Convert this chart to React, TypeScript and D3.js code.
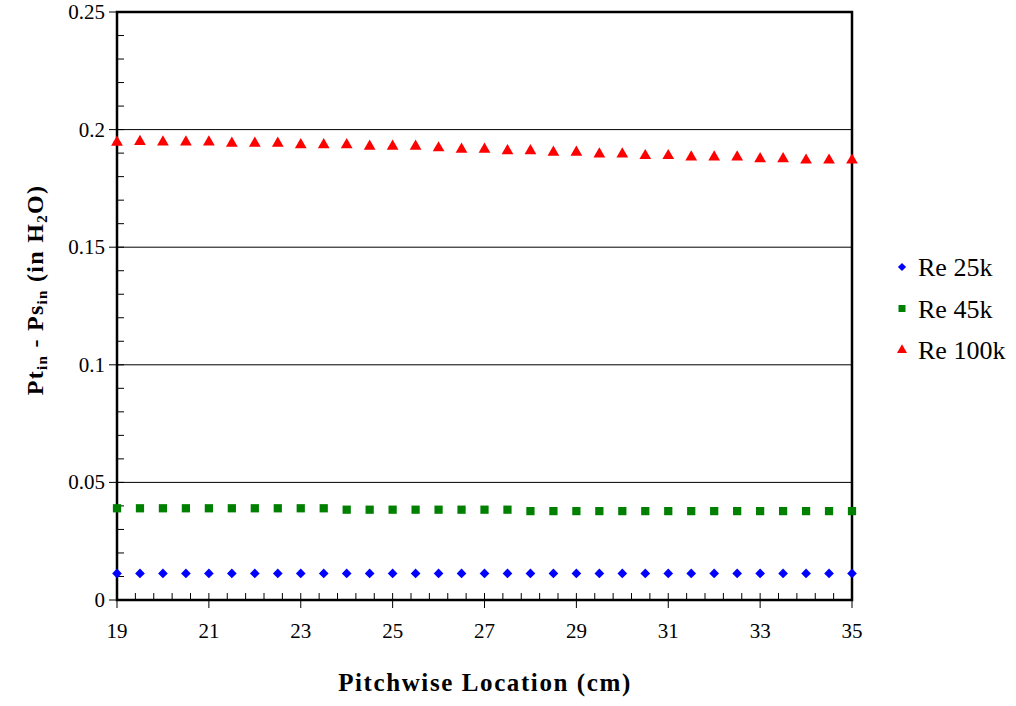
import React from "react";
import * as d3 from "d3";

const locations: number[] = [
  19, 19.5, 20, 20.5, 21, 21.5, 22, 22.5, 23, 23.5, 24, 24.5, 25, 25.5, 26, 26.5,
  27, 27.5, 28, 28.5, 29, 29.5, 30, 30.5, 31, 31.5, 32, 32.5, 33, 33.5, 34, 34.5, 35,
];

const re25k: number[] = [
  0.0113, 0.0113, 0.0113, 0.0113, 0.0113, 0.0113, 0.0113, 0.0113, 0.0113, 0.0113, 0.0113,
  0.0113, 0.0113, 0.0113, 0.0113, 0.0113, 0.0113, 0.0113, 0.0113, 0.0113, 0.0113, 0.0113,
  0.0113, 0.0113, 0.0113, 0.0113, 0.0113, 0.0113, 0.0113, 0.0113, 0.0113, 0.0113, 0.0113,
];

const re45k: number[] = [
  0.039, 0.039, 0.039, 0.039, 0.039, 0.039, 0.039, 0.039, 0.039, 0.039, 0.0384,
  0.0384, 0.0384, 0.0384, 0.0384, 0.0384, 0.0384, 0.0384, 0.0378, 0.0378, 0.0378, 0.0378,
  0.0378, 0.0378, 0.0378, 0.0378, 0.0378, 0.0378, 0.0378, 0.0378, 0.0378, 0.0378, 0.0378,
];

const re100k: number[] = [
  0.1946, 0.1949, 0.1947, 0.1947, 0.1947, 0.1942, 0.1942, 0.1942, 0.1935, 0.1935, 0.1935,
  0.1929, 0.1929, 0.1929, 0.1922, 0.1916, 0.1916, 0.191, 0.191, 0.1903, 0.1903, 0.1896,
  0.1896, 0.1889, 0.1889, 0.1883, 0.1883, 0.1883, 0.1876, 0.1876, 0.187, 0.187, 0.187,
];

const seriesNames: string[] = ["Re 25k", "Re 45k", "Re 100k"];
const xTickValues: number[] = [19, 21, 23, 25, 27, 29, 31, 33, 35];
const yTickValues: number[] = [0, 0.05, 0.1, 0.15, 0.2, 0.25];
const yTickLabels: string[] = ["0", "0.05", "0.1", "0.15", "0.2", "0.25"];

const W = 1016;
const H = 706;
const left = 117;
const right = 852;
const top = 12;
const bottom = 600;

const FONT = "Liberation Serif";

export default function App() {
  const x = d3.scaleLinear().domain([19, 35]).range([left, right]);
  const y = d3.scaleLinear().domain([0, 0.25]).range([bottom, top]);

  const xMinor = d3.range(19, 35.001, 0.4).map((v) => +v.toFixed(2)).filter(
    (v) => !xTickValues.some((t) => Math.abs(t - v) < 1e-6)
  );
  const yMinor = d3.range(0, 0.2501, 0.01).map((v) => +v.toFixed(3)).filter(
    (v) => !yTickValues.some((t) => Math.abs(t - v) < 1e-6)
  );

  const diamond = d3.symbol().type(d3.symbolDiamond2).size(60)() as string;
  const square = d3.symbol().type(d3.symbolSquare).size(68)() as string;
  const triangle = d3.symbol().type(d3.symbolTriangle).size(60)() as string;

  const series = [
    { name: seriesNames[0], values: re25k, path: diamond, color: "#0000ff" },
    { name: seriesNames[1], values: re45k, path: square, color: "#008000" },
    { name: seriesNames[2], values: re100k, path: triangle, color: "#ff0000" },
  ];

  const txt = { fontFamily: FONT };

  return (
    <div style={{ position: "absolute", left: 0, top: 0 }}>
      <svg width={W} height={H} style={{ display: "block", background: "#fff", fontFamily: FONT }}>
        {/* gridlines */}
        {yTickValues.filter((v) => v > 0 && v < 0.25).map((v) => (
          <line key={"g" + v} x1={left} x2={right} y1={y(v)} y2={y(v)} stroke="#000" strokeWidth={1} />
        ))}
        {/* minor ticks */}
        {yMinor.map((v) => (
          <line key={"ym" + v} x1={left} x2={left + 7} y1={y(v)} y2={y(v)} stroke="#000" strokeWidth={1} />
        ))}
        {xMinor.map((v) => (
          <line key={"xm" + v} x1={x(v)} x2={x(v)} y1={bottom} y2={bottom - 7} stroke="#000" strokeWidth={1} />
        ))}
        {/* major ticks */}
        {yTickValues.map((v) => (
          <line key={"yM" + v} x1={left - 8} x2={left + 7} y1={y(v)} y2={y(v)} stroke="#000" strokeWidth={1} />
        ))}
        {xTickValues.map((v) => (
          <line key={"xM" + v} x1={x(v)} x2={x(v)} y1={bottom - 7} y2={bottom + 8} stroke="#000" strokeWidth={1} />
        ))}
        {/* frame */}
        <rect x={left} y={top} width={right - left} height={bottom - top} fill="none" stroke="#000" strokeWidth={2.5} />
        {/* tick labels */}
        {yTickValues.map((v, i) => (
          <text key={"yl" + v} x={left - 12} y={y(v) + 7} textAnchor="end" style={txt} fontSize={21}>
            {yTickLabels[i]}
          </text>
        ))}
        {xTickValues.map((v) => (
          <text key={"xl" + v} x={x(v)} y={bottom + 38} textAnchor="middle" style={txt} fontSize={21}>
            {v}
          </text>
        ))}
        {/* data */}
        {series.map((s) => (
          <g key={s.name} fill={s.color}>
            {s.values.map((v, i) => (
              <path key={i} d={s.path} transform={`translate(${x(locations[i])},${y(v)})`} />
            ))}
          </g>
        ))}
        {/* axis titles */}
        <text x={485} y={691} textAnchor="middle" style={txt} fontSize={25} fontWeight="bold" letterSpacing={1.6}>
          Pitchwise Location (cm)
        </text>
        <text
          transform="translate(43,290) rotate(-90)"
          textAnchor="middle"
          style={txt}
          fontSize={24}
          fontWeight="bold"
          letterSpacing={1.3}
        >
          Pt<tspan fontSize={15} dy={4}>in</tspan>
          <tspan dy={-4}> - Ps</tspan>
          <tspan fontSize={15} dy={4}>in</tspan>
          <tspan dy={-4}> (in H</tspan>
          <tspan fontSize={15} dy={4}>2</tspan>
          <tspan dy={-4}>O)</tspan>
        </text>
        {/* legend */}
        {series.map((s, i) => (
          <g key={"lg" + s.name} transform={`translate(0,${267 + i * 41.5})`}>
            <path d={s.path} fill={s.color} transform="translate(902,0) scale(0.85)" />
            <text x={918} y={9} style={txt} fontSize={26}>
              {s.name}
            </text>
          </g>
        ))}
      </svg>
    </div>
  );
}
